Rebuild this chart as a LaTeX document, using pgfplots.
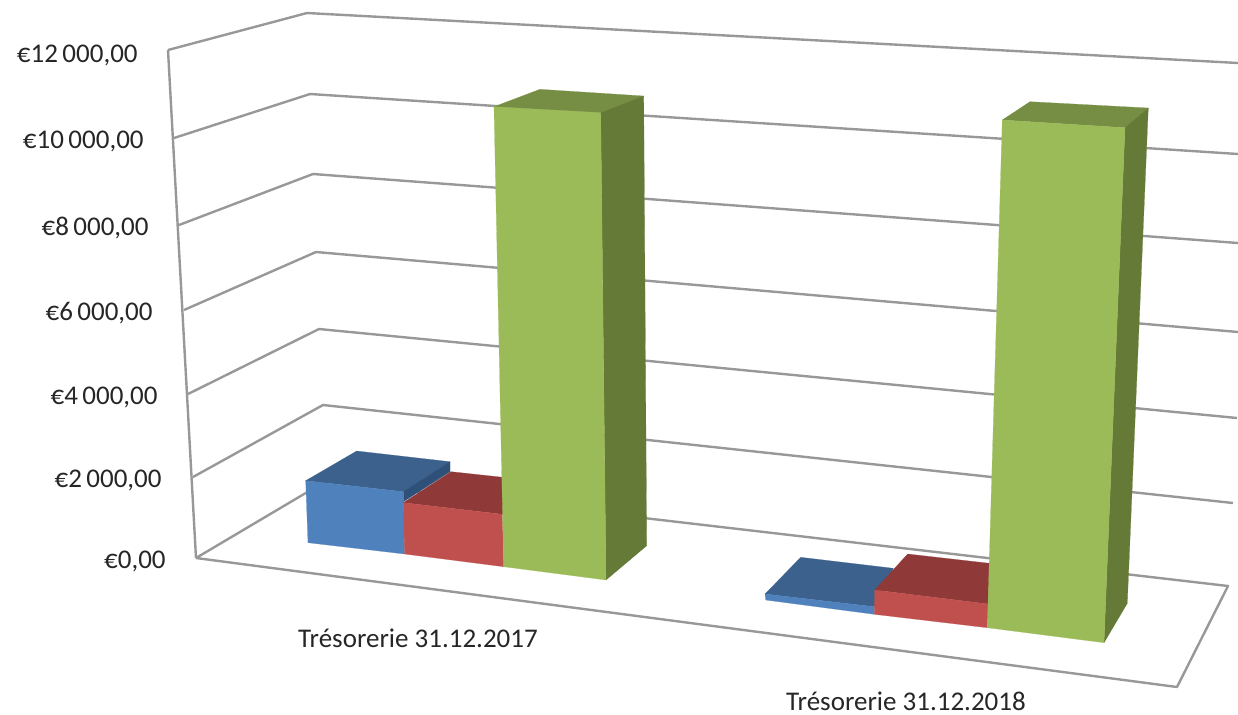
\documentclass[border=0pt]{standalone}
\usepackage{fontspec}
\setmainfont{Carlito}
\usepackage{pgfplots}
\pgfplotsset{compat=1.18}
\definecolor{grid3d}{HTML}{989898}
\definecolor{bluef}{HTML}{4F81BD}
\definecolor{bluet}{HTML}{3C618D}
\definecolor{blues}{HTML}{2F5078}
\definecolor{redf}{HTML}{C0504D}
\definecolor{redt}{HTML}{8F3A38}
\definecolor{greenf}{HTML}{9BBB59}
\definecolor{greent}{HTML}{768E43}
\definecolor{greens}{HTML}{657A37}
\definecolor{txt}{HTML}{262626}
\tikzset{
  gridl/.style={draw=grid3d, line width=1.2pt, line join=round},
  face/.style={fill=#1, draw=#1, line width=0.1pt},
  lab/.style={font=\fontsize{13.5}{15}\selectfont, text=txt, inner sep=0pt},
}
\begin{document}
\begin{tikzpicture}
\useasboundingbox (0,0) rectangle (619pt,357pt);
\begin{axis}[
  at={(0,0)}, anchor=south west,
  hide axis, scale only axis,
  width=619pt, height=357pt,
  xmin=0, xmax=1238, ymin=0, ymax=714, y dir=reverse,
  clip=true,
]
% walls and floor
\addplot[gridl] coordinates {(168,50)(307,13)(1238,63)};
\addplot[gridl] coordinates {(174,138)(310,94)(1238,154)};
\addplot[gridl] coordinates {(179,225)(313,174)(1238,243)};
\addplot[gridl] coordinates {(184,310)(316,252)(1238,332)};
\addplot[gridl] coordinates {(188,394)(319,329)(1237,418)};
\addplot[gridl] coordinates {(193,477)(323,405)(1233,503)};
\addplot[gridl] coordinates {(168,50)(196,558)};
\addplot[gridl] coordinates {(196,558)(326,481)(1228,586)(1177,687)(196,558)};
% 2017 blue
\addplot[face=bluet] coordinates {(305.7,480.7)(356.7,451)(450,461.7)(403.3,491.7)} --cycle;
\addplot[face=blues] coordinates {(403.3,491.7)(450,461.7)(450,471.7)(403.3,501.7)} --cycle;
\addplot[face=bluef] coordinates {(305.7,480.7)(403.3,491.7)(404.7,554)(308,542.7)} --cycle;
% 2017 red
\addplot[face=redt] coordinates {(403.3,502.7)(451,471.7)(503,477.3)(503,514.3)} --cycle;
\addplot[face=redf] coordinates {(403.3,502.7)(502.3,514.3)(503.7,566.7)(404.7,554)} --cycle;
% 2017 green
\addplot[face=greent] coordinates {(494,106.7)(540,89.3)(643.7,96)(600.7,112.7)} --cycle;
\addplot[face=greens] coordinates {(600.7,112.7)(643.7,96)(646.7,545.7)(606,580)} --cycle;
\addplot[face=greenf] coordinates {(494,106.7)(600.7,112.7)(606,580)(503.7,566.7)} --cycle;
% 2018 blue
\addplot[face=bluet] coordinates {(765,594)(800.7,557.3)(893.3,568.3)(874.3,606.7)} --cycle;
\addplot[face=bluef] coordinates {(765,594)(874.3,606.7)(874.3,614.3)(765.7,600)} --cycle;
% 2018 red
\addplot[face=redt] coordinates {(874.7,590)(907.7,554)(989.3,563.3)(988.3,604)} --cycle;
\addplot[face=redf] coordinates {(874.7,590)(988.3,604)(987.3,627.7)(874.3,614.3)} --cycle;
% 2018 green
\addplot[face=greent] coordinates {(1002.3,120)(1030,101.7)(1148.3,108)(1125,127.7)} --cycle;
\addplot[face=greens] coordinates {(1125,127.7)(1148.3,108)(1127.3,603.3)(1104,642.7)} --cycle;
\addplot[face=greenf] coordinates {(1002.3,120)(1125,127.7)(1104,642.7)(987.3,627.7)} --cycle;
% labels
\node[lab, anchor=east] at (axis cs:138,55) {€12\,000,00};
\node[lab, anchor=east] at (axis cs:144,141) {€10\,000,00};
\node[lab, anchor=east] at (axis cs:149,228) {€8\,000,00};
\node[lab, anchor=east] at (axis cs:153,313) {€6\,000,00};
\node[lab, anchor=east] at (axis cs:158,397) {€4\,000,00};
\node[lab, anchor=east] at (axis cs:162,480) {€2\,000,00};
\node[lab, anchor=east] at (axis cs:166,561) {€0,00};
\node[lab] at (axis cs:418,638) {Trésorerie 31.12.2017};
\node[lab] at (axis cs:906,701) {Trésorerie 31.12.2018};
\end{axis}
\end{tikzpicture}
\end{document}
